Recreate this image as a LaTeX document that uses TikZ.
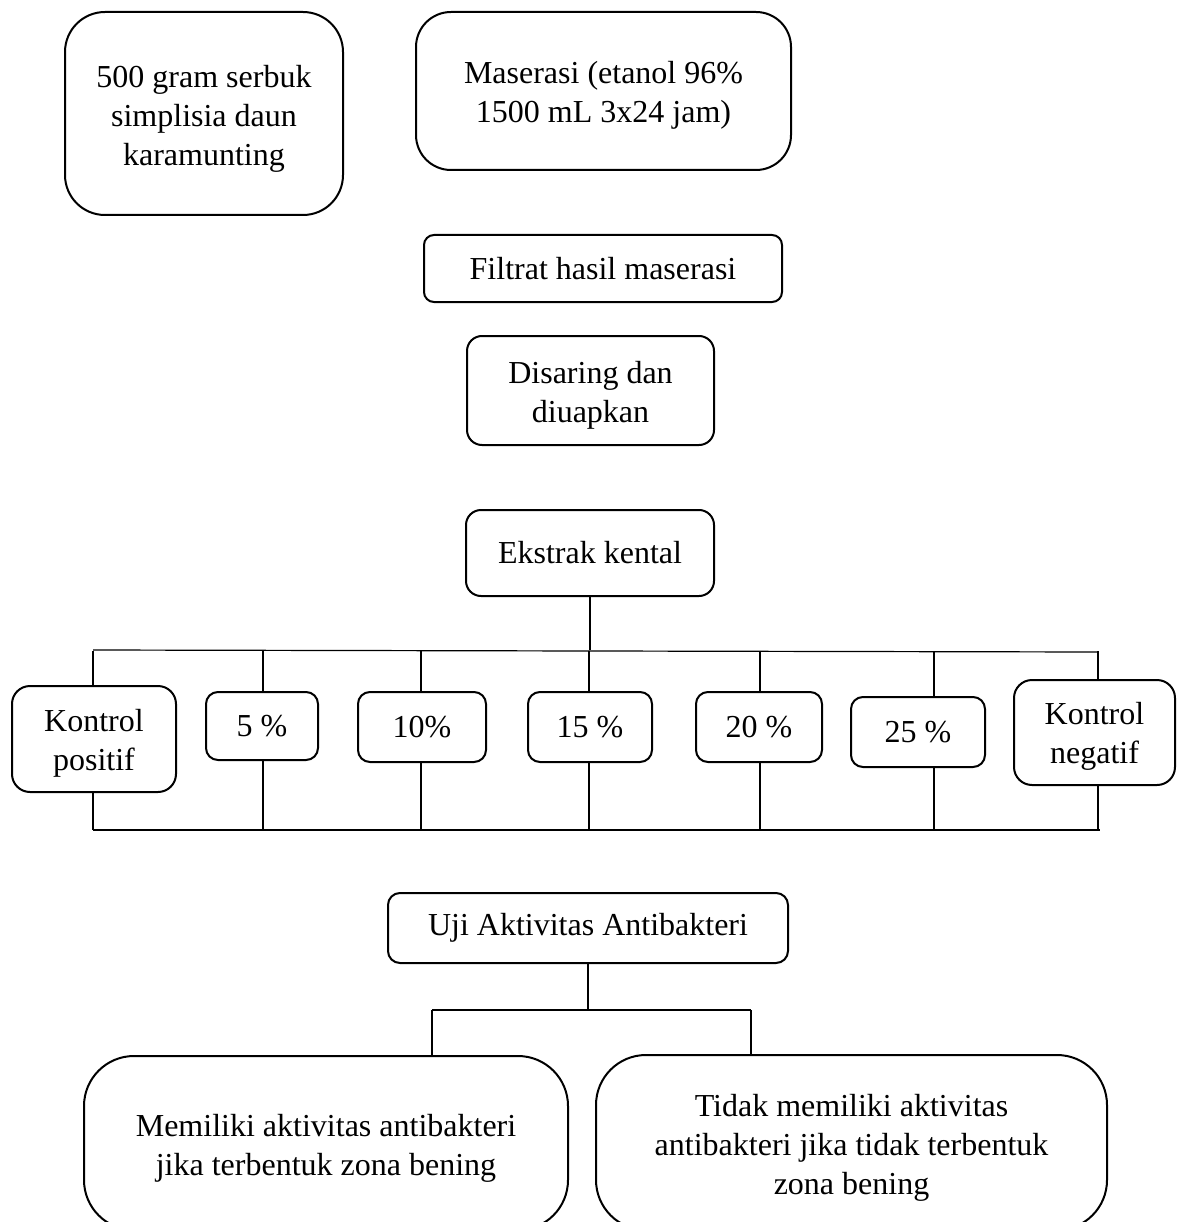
\documentclass[tikz,border=0pt]{standalone}
\usepackage{fontspec}
\setmainfont{Liberation Serif}
\begin{document}
\begin{tikzpicture}[x=1pt,y=-1pt,
  box/.style={draw, line width=2pt, rectangle, align=center, inner sep=0pt,
    font=\fontsize{32}{39}\selectfont},
  txt/.style={align=center, inner sep=0pt, font=\fontsize{32}{39}\selectfont},
  conn/.style={line width=1.2pt}]
\useasboundingbox[fill=white] (0,0) rectangle (1181,1222);
\begin{scope}
\clip (0,0) rectangle (1181,1222);
\node[box, rounded corners=40pt, minimum width=278pt, minimum height=203pt] (a) at (204,113.5) {};
\node[txt] (at) at ([yshift=-5pt]a.center) {500 gram serbuk\\simplisia daun\\karamunting};
\node[box, rounded corners=35pt, minimum width=375pt, minimum height=158pt] (b) at (603.5,91) {};
\node[txt] (bt) at ([yshift=-4pt]b.center) {Maserasi (etanol 96\%\\1500 mL 3x24 jam)};
\node[box, rounded corners=10pt, minimum width=358pt, minimum height=67pt] (c) at (603,268.5) {Filtrat hasil maserasi};
\node[box, rounded corners=15pt, minimum width=247pt, minimum height=109pt] (d) at (590.5,390.5) {};
\node[txt] (dt) at ([yshift=-5pt]d.center) {Disaring dan\\diuapkan};
\node[box, rounded corners=15pt, minimum width=248pt, minimum height=86pt] (e) at (590,553) {Ekstrak kental};
\node[box, rounded corners=18pt, minimum width=164pt, minimum height=106pt] (kp) at (94,739) {};
\node[txt] (kpt) at ([yshift=-4pt]kp.center) {Kontrol\\positif};
\node[box, rounded corners=12pt, minimum width=112pt, minimum height=68pt] (p5) at (262,726) {5 \%};
\node[box, rounded corners=12pt, minimum width=128pt, minimum height=70pt] (p10) at (422,727) {10\%};
\node[box, rounded corners=12pt, minimum width=124pt, minimum height=70pt] (p15) at (590,727) {15 \%};
\node[box, rounded corners=12pt, minimum width=126pt, minimum height=70pt] (p20) at (759,727) {20 \%};
\node[box, rounded corners=12pt, minimum width=134pt, minimum height=70pt] (p25) at (918,732) {25 \%};
\node[box, rounded corners=18pt, minimum width=161pt, minimum height=105pt] (kn) at (1094.5,732.5) {};
\node[txt] (knt) at ([yshift=-4pt]kn.center) {Kontrol\\negatif};
\node[box, rounded corners=12pt, minimum width=400pt, minimum height=70pt] (f) at (588,928) {Uji Aktivitas Antibakteri};
\node[box, rounded corners=50pt, minimum width=484pt, minimum height=174pt] (g) at (326,1143) {};
\node[txt] (gt) at ([yshift=-5pt]g.center) {Memiliki aktivitas antibakteri\\jika terbentuk zona bening};
\node[box, rounded corners=50pt, minimum width=511pt, minimum height=175pt] (h) at (851.5,1142.5) {};
\node[txt] (ht) at ([yshift=-5pt]h.center) {Tidak memiliki aktivitas\\antibakteri jika tidak terbentuk\\zona bening};
\end{scope}
\coordinate (tl) at (93,650);
\coordinate (tr) at (1098,652);
\coordinate (bl) at (93,830);
\coordinate (br) at (1100,830);
\coordinate (hl) at (432,1010);
\coordinate (hr) at (751,1010);
\draw[conn] (e.south) -- (e.south |- tl);
\draw[conn] (tl) -- (tr);
\draw[conn] (bl) -- (br);
\foreach \n/\xx in {kp/93, p5/263, p10/421, p15/589, p20/760, p25/934, kn/1098}{
  \draw[conn] (\xx,651) -- (\xx,0 |- \n.north);
  \draw[conn] (\xx,0 |- \n.south) -- (\xx,830);
}
\draw[conn] (f.south) -- (f.south |- hl);
\draw[conn] (hl) -- (hr);
\draw[conn] (hl) -- (hl |- g.north);
\draw[conn] (hr) -- (hr |- h.north);
\end{tikzpicture}
\end{document}
